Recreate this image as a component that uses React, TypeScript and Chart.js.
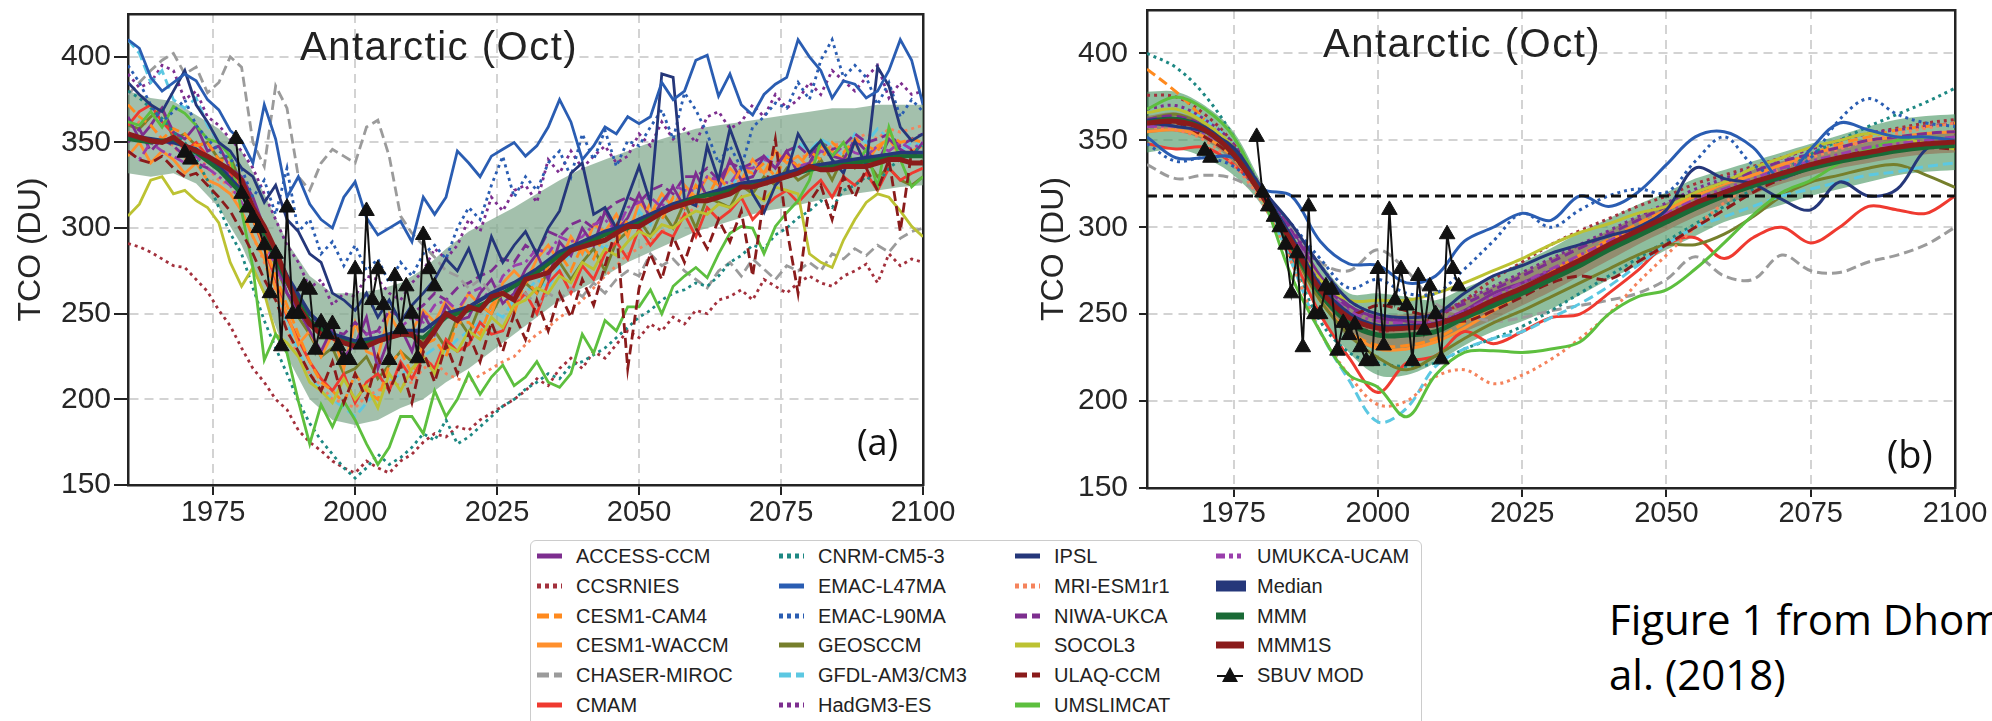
import React, { useEffect, useRef } from "react";
import { Chart, registerables } from "chart.js";

Chart.register(...registerables);

// ---------------- axes ----------------
const X_MIN = 1960;
const X_MAX = 2100;
const Y_MIN = 150;
const Y_MAX = 425;
const X_TICKS = [1975, 2000, 2025, 2050, 2075, 2100];
const Y_TICKS = [150, 200, 250, 300, 350, 400];

// ---------------- year grids ----------------
const YEARS_2 = [
  1960, 1962, 1964, 1966, 1968,
  1970, 1972, 1974, 1976, 1978,
  1980, 1982, 1984, 1986, 1988,
  1990, 1992, 1994, 1996, 1998,
  2000, 2002, 2004, 2006, 2008,
  2010, 2012, 2014, 2016, 2018,
  2020, 2022, 2024, 2026, 2028,
  2030, 2032, 2034, 2036, 2038,
  2040, 2042, 2044, 2046, 2048,
  2050, 2052, 2054, 2056, 2058,
  2060, 2062, 2064, 2066, 2068,
  2070, 2072, 2074, 2076, 2078,
  2080, 2082, 2084, 2086, 2088,
  2090, 2092, 2094, 2096, 2098,
  2100,
];
const YEARS_4 = [
  1960, 1964, 1968, 1972, 1976,
  1980, 1984, 1988, 1992, 1996,
  2000, 2004, 2008, 2012, 2016,
  2020, 2024, 2028, 2032, 2036,
  2040, 2044, 2048, 2052, 2056,
  2060, 2064, 2068, 2072, 2076,
  2080, 2084, 2088, 2092, 2096,
  2100,
];
const YEARS_5 = [
  1960, 1965, 1970, 1975, 1980,
  1985, 1990, 1995, 2000, 2005,
  2010, 2015, 2020, 2025, 2030,
  2035, 2040, 2045, 2050, 2055,
  2060, 2065, 2070, 2075, 2080,
  2085, 2090, 2095, 2100,
];

// ---------------- SBUV MOD observations (both panels) ----------------
const SBUV_YEARS = [
  1970, 1971, 1972, 1973, 1974, 1975, 1976, 1977, 1978, 1979,
  1980, 1981, 1982, 1983, 1984, 1985, 1986, 1987, 1988, 1989,
  1990, 1991, 1992, 1993, 1994, 1995, 1996, 1997, 1998, 1999,
  2000, 2001, 2002, 2003, 2004, 2005, 2006, 2007, 2008, 2009,
  2010, 2011, 2012, 2013, 2014,
];
const SBUV_TCO = [
  344, 340, null, null, null, null, null, null, null, 352,
  320, 312, 306, 300, 290, 262, 285, 231, 312, 250,
  250, 266, 264, 229, 245, 238, 244, 231, 223, 223,
  276, 232, 310, 258, 276, 255, 223, 272, 241, 266,
  250, 224, 296, 276, 266,
];

// ---------------- Panel (a): model values, two-year sampling (YEARS_2) ----------------
const A_ACCESS_CCM = [
  365, 352, 360, 370, 356,
  352, 360, 345, 348, 335,
  330, 318, 300, 282, 262,
  252, 240, 228, 242, 225,
  232, 248, 218, 236, 242,
  228, 250, 238, 255, 246,
  248, 262, 270, 256, 262,
  276, 285, 270, 292, 284,
  300, 290, 310, 298, 306,
  320, 305, 315, 324, 312,
  332, 318, 322, 340, 328,
  330, 342, 335, 345, 332,
  338, 350, 342, 340, 352,
  345, 338, 352, 346, 342,
  350,
];
const A_CESM1_CAM4 = [
  372, 365, 360, 352, 358,
  355, 348, 350, 340, 338,
  318, 305, 290, 272, 255,
  238, 222, 210, 205, 198,
  215, 205, 200, 220, 228,
  215, 232, 235, 225, 245,
  245, 238, 255, 262, 250,
  270, 262, 278, 285, 275,
  290, 282, 298, 292, 305,
  300, 315, 305, 318, 312,
  325, 318, 330, 322, 335,
  332, 338, 330, 342, 336,
  345, 340, 350, 344, 352,
  348, 345, 355, 350, 352,
  350,
];
const A_CESM1_WACCM = [
  342, 350, 338, 345, 340,
  332, 338, 328, 325, 320,
  310, 295, 282, 265, 250,
  232, 240, 225, 238, 218,
  245, 228, 225, 250, 238,
  240, 252, 245, 258, 250,
  262, 255, 250, 268, 275,
  268, 282, 290, 280, 295,
  285, 302, 298, 308, 295,
  315, 308, 320, 312, 325,
  318, 330, 325, 335, 328,
  340, 332, 345, 338, 342,
  335, 348, 345, 340, 350,
  338, 348, 352, 342, 345,
  348,
];
const A_CMAM = [
  360, 368, 372, 362, 355,
  345, 350, 342, 338, 332,
  322, 305, 288, 270, 248,
  235, 222, 212, 205, 215,
  198, 210, 215, 205, 222,
  212, 225, 218, 235, 228,
  232, 245, 238, 240, 255,
  262, 250, 268, 275, 262,
  278, 270, 285, 292, 282,
  300, 290, 298, 295, 308,
  295, 312, 305, 310, 318,
  305, 312, 318, 322, 315,
  322, 328, 318, 330, 325,
  332, 322, 335, 328, 332,
  335,
];
const A_GEOSCCM = [
  360, 358, 365, 370, 352,
  355, 348, 350, 340, 342,
  325, 310, 295, 278, 262,
  248, 238, 225, 230, 215,
  218, 225, 212, 220, 228,
  222, 235, 240, 230, 248,
  238, 255, 250, 262, 258,
  268, 262, 275, 280, 270,
  280, 288, 275, 292, 298,
  305, 295, 310, 300, 315,
  300, 318, 315, 312, 325,
  320, 330, 325, 335, 328,
  332, 340, 328, 342, 335,
  340, 330, 335, 328, 325,
  330,
];
const A_GFDL = [
  410, 402, 385, 392, 375,
  370, 376, 360, 350, 342,
  325, 308, 290, 270, 245,
  228, 215, 205, 200, 195,
  190, 198, 205, 210, 215,
  218, 225, 230, 228, 235,
  240, 245, 252, 248, 258,
  262, 270, 265, 278, 285,
  285, 292, 288, 300, 298,
  310, 302, 318, 312, 325,
  318, 330, 325, 322, 335,
  332, 340, 345, 338, 350,
  345, 352, 348, 342, 355,
  350, 358, 352, 345, 350,
  348,
];
const A_HADGM3_ES = [
  390, 382, 385, 395, 392,
  375, 380, 365, 360, 352,
  345, 335, 320, 305, 290,
  280, 265, 270, 255, 262,
  260, 272, 270, 262, 258,
  268, 275, 288, 282, 290,
  305, 298, 318, 310, 322,
  325, 315, 340, 332, 345,
  335, 342, 348, 338, 342,
  355, 348, 362, 352, 358,
  350, 365, 368, 358, 362,
  372, 365, 378, 370, 375,
  385, 378, 392, 386, 380,
  388, 395, 376, 385, 378,
  380,
];
const A_MRI_ESM1R1 = [
  355, 362, 360, 352, 348,
  340, 345, 335, 328, 325,
  310, 295, 280, 262, 240,
  225, 215, 208, 200, 198,
  195, 202, 205, 210, 208,
  210, 218, 222, 215, 212,
  210, 214, 218, 222, 225,
  232, 238, 242, 248, 252,
  258, 265, 272, 278, 285,
  288, 292, 298, 302, 308,
  312, 318, 320, 325, 328,
  335, 332, 338, 340, 342,
  342, 345, 348, 350, 352,
  355, 352, 358, 356, 358,
  360,
];
const A_NIWA_UKCA = [
  350, 358, 345, 352, 348,
  342, 338, 335, 340, 330,
  325, 312, 298, 285, 270,
  260, 250, 242, 240, 238,
  245, 238, 240, 252, 248,
  250, 255, 262, 258, 265,
  268, 272, 275, 282, 280,
  290, 285, 298, 295, 302,
  305, 300, 310, 315, 318,
  315, 322, 325, 320, 330,
  330, 335, 328, 338, 335,
  338, 342, 335, 345, 348,
  342, 350, 346, 348, 355,
  350, 352, 355, 348, 352,
  355,
];
const A_UMUKCA_UCAM = [
  345, 340, 350, 345, 342,
  338, 342, 335, 330, 325,
  315, 305, 292, 278, 262,
  252, 245, 240, 238, 235,
  232, 238, 240, 235, 242,
  248, 245, 255, 258, 252,
  262, 265, 258, 272, 278,
  280, 288, 285, 295, 292,
  295, 302, 305, 298, 312,
  315, 318, 312, 325, 322,
  322, 330, 328, 326, 335,
  335, 340, 338, 342, 336,
  338, 345, 342, 348, 344,
  342, 348, 345, 350, 346,
  350,
];
const A_EMAC_L47MA = [
  410, 405, 388, 380, 385,
  390, 386, 375, 369, 357,
  351, 338, 372, 352, 318,
  330, 314, 305, 300, 318,
  327, 306, 296, 300, 304,
  292, 318, 308, 318, 345,
  338, 330, 342, 346, 350,
  342, 348, 359, 375, 362,
  340, 348, 359, 355, 365,
  361, 365, 385, 375, 380,
  398, 401, 377, 390, 372,
  366, 378, 384, 388, 410,
  400, 392, 376, 386, 384,
  376, 380, 392, 410, 398,
  372,
];
const A_EMAC_L90MA = [
  395, 385, 372, 362, 368,
  375, 360, 352, 345, 340,
  335, 318, 328, 308, 335,
  298, 305, 285, 292, 278,
  290, 275, 282, 268, 280,
  272, 285, 290, 282, 300,
  312, 305, 325, 342, 318,
  330, 322, 338, 345, 330,
  355, 340, 357, 336, 351,
  348, 359, 369, 352, 379,
  369, 355, 338, 348, 335,
  359, 365, 373, 370, 385,
  375, 398, 410, 388, 395,
  388, 372, 385, 365, 375,
  368,
];
const A_IPSL = [
  385, 378, 372, 368, 380,
  392, 372, 362, 350, 345,
  335, 330, 315, 325, 305,
  298, 285, 280, 262, 258,
  252, 262, 248, 258, 245,
  255, 262, 270, 282, 275,
  288, 270, 295, 280, 290,
  298, 285, 300, 310, 332,
  338, 308, 312, 300, 318,
  336, 315, 390, 388, 316,
  313, 348, 328, 358, 340,
  320, 309, 325, 332, 355,
  344, 351, 340, 332, 351,
  336, 394, 383, 359, 351,
  355,
];
const A_CHASER_MIROC = [
  378, 385, 392, 398, 402,
  390, 394, 379, 385, 400,
  394, 350, 336, 383, 370,
  330, 322, 338, 346, 342,
  338, 359, 363, 342, 307,
  297, 290, 283, 275, 272,
  265, 270, 262, 268, 258,
  262, 255, 262, 258, 265,
  260, 268, 262, 270, 275,
  272, 285, 278, 282, 275,
  270, 265, 275, 280, 272,
  282, 276, 270, 278, 275,
  280, 275, 285, 282, 288,
  284, 290, 286, 294, 298,
  300,
];
const A_CCSRNIES = [
  291, 289, 286, 282, 278,
  277, 270, 263, 252, 243,
  230, 218, 210, 200, 194,
  182, 175, 170, 164, 160,
  157, 164, 160, 157, 164,
  168, 175, 180, 178, 184,
  182, 188, 192, 196, 200,
  205, 212, 208, 218, 224,
  218, 228, 224, 232, 240,
  236, 244, 240, 248, 244,
  252, 250, 258, 260, 264,
  258, 270, 266, 262, 268,
  272, 268, 266, 272, 275,
  279, 268, 285, 278, 282,
  280,
];
const A_CNRM_CM5_3 = [
  380, 376, 370, 364, 356,
  350, 340, 328, 312, 297,
  285, 265, 246, 230, 215,
  199, 186, 176, 168, 160,
  154, 160, 168, 162, 166,
  172, 180, 176, 188, 174,
  178, 184, 190, 196, 200,
  206, 210, 215, 212, 220,
  222, 226, 230, 236, 242,
  248, 252, 258, 262, 264,
  268, 266, 272, 280, 284,
  290, 288, 296, 300, 306,
  310, 316, 312, 322, 325,
  330, 326, 335, 340, 344,
  348,
];
const A_UMSLIMCAT = [
  362, 360, 368, 359, 371,
  367, 360, 352, 350, 342,
  310, 277, 223, 238, 227,
  199, 174, 197, 184, 199,
  188, 174, 162, 172, 190,
  190, 180, 205, 190, 200,
  215, 203, 213, 220, 208,
  213, 222, 210, 207, 215,
  238, 227, 246, 240, 254,
  254, 264, 250, 266, 272,
  277, 271, 285, 297, 301,
  300, 285, 301, 309, 316,
  328, 351, 342, 350, 336,
  346, 324, 359, 340, 324,
  330,
];
const A_SOCOL3 = [
  307, 314, 328, 330, 320,
  322, 316, 312, 303, 280,
  266, 277, 262, 238, 233,
  225, 210, 205, 198, 212,
  200, 208, 195, 215, 205,
  218, 225, 215, 232, 228,
  240, 235, 248, 242, 255,
  258, 265, 262, 272, 268,
  280, 276, 288, 284, 292,
  298, 295, 302, 300, 306,
  310, 308, 314, 312, 318,
  320, 316, 324, 322, 320,
  285, 280, 277, 293, 305,
  315, 320, 318, 310, 301,
  295,
];
const A_ULAQ_CCM = [
  345, 340, 338, 342, 335,
  330, 332, 325, 318, 310,
  298, 285, 270, 258, 240,
  228, 215, 205, 222, 198,
  215, 200, 225, 205, 220,
  198, 228, 210, 232, 215,
  238, 222, 245, 228, 250,
  235, 258, 240, 262, 248,
  270, 255, 278, 300, 218,
  265, 285, 270, 295, 280,
  300, 288, 305, 292, 310,
  272, 318, 352, 300, 262,
  315, 325, 305, 330, 318,
  335, 322, 340, 298, 345,
  338,
];
const A_MMM1S = [
  355, 353, 351, 350, 353,
  348, 345, 342, 338, 334,
  328, 312, 301, 287, 270,
  254, 244, 238, 236, 233,
  231, 231, 234, 236, 238,
  238, 231, 240, 250, 246,
  254, 252, 260, 262, 258,
  270, 272, 274, 281, 287,
  289, 291, 293, 297, 301,
  301, 305, 309, 312, 314,
  316, 316, 318, 320, 324,
  324, 326, 328, 330, 332,
  336, 334, 334, 336, 336,
  336, 338, 340, 340, 338,
  338,
];
// four-year sampling (YEARS_4)
const A_MEDIAN = [354, 352, 350, 346, 336, 322, 300, 272, 250, 238, 234, 236, 240, 240, 250, 254, 262, 268, 276, 286, 292, 298, 302, 308, 314, 318, 322, 326, 328, 332, 336, 338, 340, 342, 344, 344];
const A_MMM = [352, 350, 352, 344, 334, 320, 296, 268, 246, 236, 232, 234, 238, 236, 248, 252, 258, 266, 274, 284, 290, 296, 300, 306, 312, 318, 320, 324, 326, 330, 334, 336, 338, 340, 342, 342];
const A_BAND_LO = [332, 330, 332, 326, 312, 290, 260, 225, 200, 188, 185, 188, 195, 200, 210, 218, 228, 238, 248, 258, 265, 272, 280, 286, 292, 298, 302, 306, 310, 312, 315, 318, 320, 322, 324, 325];
const A_BAND_HI = [380, 376, 374, 366, 358, 345, 320, 292, 272, 262, 262, 264, 268, 276, 288, 298, 305, 312, 320, 328, 335, 340, 345, 350, 354, 358, 360, 362, 364, 366, 368, 370, 370, 372, 372, 372];

// ---------------- Panel (b): smoothed values (YEARS_5) ----------------
const B_ACCESS_CCM = [360, 362, 356, 345, 322, 300, 272, 255, 248, 246, 245, 252, 262, 268, 275, 282, 290, 298, 305, 312, 318, 324, 328, 334, 338, 342, 345, 348, 350];
const B_CCSRNIES = [376, 375, 365, 348, 320, 292, 262, 245, 240, 243, 248, 258, 270, 280, 290, 298, 305, 312, 318, 325, 330, 335, 340, 345, 350, 354, 357, 360, 362];
const B_CESM1_CAM4 = [391, 378, 362, 345, 318, 288, 258, 240, 232, 232, 236, 245, 255, 264, 274, 284, 293, 302, 310, 318, 325, 330, 336, 342, 348, 352, 356, 358, 360];
const B_CESM1_WACCM = [355, 356, 352, 340, 316, 288, 258, 240, 230, 230, 234, 242, 252, 262, 272, 282, 292, 300, 310, 318, 325, 330, 336, 342, 346, 350, 352, 354, 355];
const B_CHASER_MIROC = [336, 328, 330, 328, 318, 300, 280, 275, 287, 275, 256, 250, 246, 248, 252, 255, 258, 262, 270, 283, 272, 270, 284, 275, 274, 280, 284, 290, 300];
const B_CMAM = [348, 345, 346, 336, 318, 285, 250, 225, 205, 222, 226, 240, 233, 240, 248, 250, 262, 275, 290, 294, 282, 294, 300, 291, 300, 312, 310, 308, 318];
const B_CNRM_CM5_3 = [400, 392, 376, 352, 320, 282, 246, 228, 222, 220, 222, 230, 236, 243, 252, 262, 272, 282, 292, 302, 312, 322, 332, 342, 350, 358, 365, 372, 380];
const B_EMAC_L47MA = [352, 340, 340, 340, 322, 318, 292, 279, 278, 268, 272, 292, 300, 308, 304, 318, 312, 320, 336, 352, 355, 346, 328, 345, 360, 356, 352, 352, 350];
const B_EMAC_L90MA = [348, 338, 340, 335, 320, 302, 282, 265, 270, 262, 262, 276, 292, 308, 300, 310, 318, 322, 320, 338, 352, 336, 330, 340, 362, 374, 365, 360, 358];
const B_GEOSCCM = [362, 365, 358, 345, 318, 288, 258, 238, 225, 218, 226, 236, 245, 252, 260, 268, 276, 284, 290, 290, 296, 306, 318, 326, 330, 334, 336, 330, 323];
const B_GFDL = [366, 368, 362, 346, 318, 280, 240, 212, 188, 196, 220, 230, 236, 240, 248, 256, 266, 278, 290, 300, 306, 312, 318, 322, 326, 330, 332, 335, 337];
const B_HADGM3_ES = [368, 370, 362, 348, 322, 298, 278, 258, 250, 248, 250, 258, 266, 274, 282, 290, 298, 306, 314, 322, 328, 334, 340, 345, 350, 354, 356, 358, 360];
const B_IPSL = [360, 358, 355, 346, 322, 302, 278, 258, 250, 248, 250, 262, 272, 278, 285, 290, 295, 300, 310, 334, 328, 325, 316, 310, 326, 318, 322, 345, 350];
const B_MRI_ESM1R1 = [358, 356, 350, 336, 314, 280, 240, 215, 198, 200, 214, 218, 210, 215, 224, 236, 250, 268, 284, 300, 314, 325, 334, 340, 345, 350, 354, 357, 360];
const B_NIWA_UKCA = [362, 364, 358, 346, 322, 298, 270, 254, 248, 248, 250, 256, 264, 272, 280, 288, 296, 304, 312, 320, 326, 332, 338, 342, 346, 350, 352, 354, 355];
const B_SOCOL3 = [366, 368, 360, 346, 320, 295, 270, 258, 258, 258, 262, 268, 275, 282, 290, 297, 302, 308, 312, 320, 326, 334, 340, 346, 350, 354, 352, 348, 345];
const B_ULAQ_CCM = [358, 360, 352, 340, 318, 290, 262, 250, 255, 252, 248, 246, 252, 260, 268, 272, 270, 280, 290, 300, 310, 320, 328, 334, 340, 344, 346, 346, 345];
const B_UMSLIMCAT = [368, 375, 368, 352, 318, 272, 240, 215, 208, 191, 215, 228, 229, 228, 230, 234, 250, 260, 264, 276, 291, 307, 320, 327, 337, 345, 350, 352, 350];
const B_UMUKCA_UCAM = [358, 358, 354, 342, 320, 296, 268, 252, 246, 245, 246, 252, 260, 268, 276, 284, 292, 300, 308, 316, 322, 328, 334, 338, 342, 346, 348, 350, 352];
const B_MEDIAN = [361, 362, 357, 343, 320, 294, 266, 250, 243, 243, 244, 250, 257, 264, 272, 280, 288, 297, 305, 313, 320, 325, 330, 335, 339, 342, 345, 347, 348];
const B_MMM = [360, 362, 356, 342, 318, 290, 262, 245, 238, 238, 240, 248, 255, 262, 270, 278, 287, 295, 303, 311, 318, 324, 329, 334, 338, 341, 344, 346, 347];
const B_MMM1S = [360, 361, 356, 342, 318, 292, 264, 248, 242, 242, 244, 250, 258, 265, 273, 281, 290, 298, 306, 314, 320, 326, 331, 336, 340, 343, 346, 348, 349];
const B_BAND_LO = [343, 345, 340, 330, 312, 280, 250, 228, 215, 215, 222, 232, 240, 246, 253, 261, 270, 278, 287, 295, 303, 308, 313, 318, 322, 326, 330, 332, 333];
const B_BAND_HI = [378, 378, 370, 355, 325, 300, 280, 262, 262, 260, 258, 265, 272, 280, 288, 297, 305, 313, 320, 328, 333, 338, 343, 348, 353, 358, 362, 364, 365];
const B_BROWN_LO = [354, 355, 350, 337, 315, 288, 258, 236, 230, 230, 234, 240, 247, 255, 263, 272, 281, 290, 298, 306, 313, 319, 325, 330, 334, 337, 340, 342, 343];
const B_BROWN_HI = [364, 366, 360, 346, 321, 296, 270, 254, 250, 250, 252, 258, 266, 274, 282, 290, 298, 306, 314, 321, 327, 333, 338, 342, 346, 349, 352, 354, 355];
const B_REF_YEARS = [1960, 2100];
const B_REF_LEVEL = [318, 318];

// ---------------- styles ----------------
const FONT = "'Liberation Sans', Arial, Helvetica, sans-serif";
const CAPTION_FONT = "'Open Sans', 'Noto Sans', sans-serif";
const TEXT = "#262626";
const AXIS = "#232323";
const GRID = "#d3d3d3";

const SOLID: number[] = [];
const DOT = [3, 4];
const DASH = [10, 5];
const DASHDOT = [10, 4, 3, 4];

type St = { color: string; dash: number[]; leg: string; lw?: number; len?: number };
const STYLE: Record<string, St> = {
  "ACCESS-CCM": { color: "#7d2e8f", dash: SOLID, leg: "" },
  CCSRNIES: { color: "#a3303c", dash: DOT, leg: "4 4" },
  "CESM1-CAM4": { color: "#ff8a1e", dash: DASH, leg: "12 5" },
  "CESM1-WACCM": { color: "#ff902e", dash: SOLID, leg: "" },
  "CHASER-MIROC": { color: "#9b9b9b", dash: DASH, leg: "12 5" },
  CMAM: { color: "#ef3a30", dash: SOLID, leg: "" },
  "CNRM-CM5-3": { color: "#1d8883", dash: DOT, leg: "4 4" },
  "EMAC-L47MA": { color: "#2a5db2", dash: SOLID, leg: "" },
  "EMAC-L90MA": { color: "#2a5db2", dash: DOT, leg: "4 4" },
  GEOSCCM: { color: "#767f2c", dash: SOLID, leg: "" },
  "GFDL-AM3/CM3": { color: "#5cc8e2", dash: DASH, leg: "12 5" },
  "HadGM3-ES": { color: "#7d2e8f", dash: DOT, leg: "4 4" },
  IPSL: { color: "#25377a", dash: SOLID, leg: "" },
  "MRI-ESM1r1": { color: "#f5835c", dash: DOT, leg: "4 4" },
  "NIWA-UKCA": { color: "#7d2e8f", dash: DASH, leg: "12 5" },
  SOCOL3: { color: "#bcc232", dash: SOLID, leg: "" },
  "ULAQ-CCM": { color: "#8a1b1b", dash: DASH, leg: "12 5" },
  UMSLIMCAT: { color: "#5dbf3e", dash: SOLID, leg: "" },
  "UMUKCA-UCAM": { color: "#9a3fac", dash: DASHDOT, leg: "9 4 4 4" },
  Median: { color: "#25377a", dash: SOLID, leg: "", lw: 11, len: 30 },
  MMM: { color: "#1a6a36", dash: SOLID, leg: "", lw: 7, len: 28 },
  MMM1S: { color: "#8a1b1b", dash: SOLID, leg: "", lw: 7, len: 28 },
  "SBUV MOD": { color: "#111111", dash: SOLID, leg: "" },
};

const LEGEND_COLUMNS = [
  ["ACCESS-CCM", "CCSRNIES", "CESM1-CAM4", "CESM1-WACCM", "CHASER-MIROC", "CMAM"],
  ["CNRM-CM5-3", "EMAC-L47MA", "EMAC-L90MA", "GEOSCCM", "GFDL-AM3/CM3", "HadGM3-ES"],
  ["IPSL", "MRI-ESM1r1", "NIWA-UKCA", "SOCOL3", "ULAQ-CCM", "UMSLIMCAT"],
  ["UMUKCA-UCAM", "Median", "MMM", "MMM1S", "SBUV MOD"],
];

// ---------------- dataset helpers ----------------
function series(name: string, xs: number[], ys: (number | null)[], width: number, tension: number) {
  const st = STYLE[name];
  return {
    label: name,
    data: xs.map((x, i) => ({ x, y: ys[i] })),
    borderColor: st.color,
    backgroundColor: st.color,
    borderWidth: width,
    borderDash: st.dash,
    pointRadius: 0,
    fill: false,
    tension,
    spanGaps: false,
  };
}

function band(xs: number[], lo: number[], hi: number[], color: string, tension: number) {
  return [
    {
      label: "band-lo",
      data: xs.map((x, i) => ({ x, y: lo[i] })),
      borderColor: "rgba(0,0,0,0)",
      borderWidth: 1,
      pointRadius: 0,
      fill: false,
      tension,
    },
    {
      label: "band-hi",
      data: xs.map((x, i) => ({ x, y: hi[i] })),
      borderColor: "rgba(0,0,0,0)",
      backgroundColor: color,
      borderWidth: 1,
      pointRadius: 0,
      fill: "-1",
      tension,
    },
  ];
}

function sbuv(width: number) {
  return {
    label: "SBUV MOD",
    data: SBUV_YEARS.map((x, i) => ({ x, y: SBUV_TCO[i] })),
    borderColor: "#111111",
    backgroundColor: "#111111",
    borderWidth: width,
    pointStyle: "triangle",
    pointRadius: 9,
    pointBackgroundColor: "#111111",
    pointBorderColor: "#111111",
    pointBorderWidth: 1,
    spanGaps: false,
    fill: false,
    tension: 0,
  };
}

// later entries are painted on top (order decreases along the list)
function stack(list: any[]) {
  const n = list.length;
  return list.map((d, i) => ({ ...d, order: n - i }));
}

const W_A = 2.8;
const datasetsA = stack([
  ...band(YEARS_4, A_BAND_LO, A_BAND_HI, "rgba(128,168,140,0.72)", 0),
  series("HadGM3-ES", YEARS_2, A_HADGM3_ES, W_A, 0),
  series("GFDL-AM3/CM3", YEARS_2, A_GFDL, W_A, 0),
  series("MRI-ESM1r1", YEARS_2, A_MRI_ESM1R1, W_A, 0),
  series("GEOSCCM", YEARS_2, A_GEOSCCM, W_A, 0),
  series("CMAM", YEARS_2, A_CMAM, W_A, 0),
  series("CESM1-WACCM", YEARS_2, A_CESM1_WACCM, W_A, 0),
  series("NIWA-UKCA", YEARS_2, A_NIWA_UKCA, W_A, 0),
  series("UMUKCA-UCAM", YEARS_2, A_UMUKCA_UCAM, W_A, 0),
  series("ACCESS-CCM", YEARS_2, A_ACCESS_CCM, W_A, 0),
  series("CESM1-CAM4", YEARS_2, A_CESM1_CAM4, W_A, 0),
  series("CHASER-MIROC", YEARS_2, A_CHASER_MIROC, W_A, 0),
  series("CCSRNIES", YEARS_2, A_CCSRNIES, W_A, 0),
  series("CNRM-CM5-3", YEARS_2, A_CNRM_CM5_3, W_A, 0),
  series("SOCOL3", YEARS_2, A_SOCOL3, W_A, 0),
  series("UMSLIMCAT", YEARS_2, A_UMSLIMCAT, W_A, 0),
  series("EMAC-L90MA", YEARS_2, A_EMAC_L90MA, W_A, 0),
  series("IPSL", YEARS_2, A_IPSL, W_A, 0),
  series("EMAC-L47MA", YEARS_2, A_EMAC_L47MA, W_A, 0),
  series("ULAQ-CCM", YEARS_2, A_ULAQ_CCM, W_A, 0),
  series("Median", YEARS_4, A_MEDIAN, 4, 0),
  series("MMM", YEARS_4, A_MMM, 4, 0),
  series("MMM1S", YEARS_2, A_MMM1S, 5, 0),
  sbuv(2),
]);

const T = 0.35;
const datasetsB = stack([
  ...band(YEARS_5, B_BAND_LO, B_BAND_HI, "rgba(72,150,98,0.62)", T),
  ...band(YEARS_5, B_BROWN_LO, B_BROWN_HI, "rgba(150,100,72,0.55)", T),
  series("ACCESS-CCM", YEARS_5, B_ACCESS_CCM, 3, T),
  series("CCSRNIES", YEARS_5, B_CCSRNIES, 3, T),
  series("CESM1-CAM4", YEARS_5, B_CESM1_CAM4, 3, T),
  series("CESM1-WACCM", YEARS_5, B_CESM1_WACCM, 3, T),
  series("CHASER-MIROC", YEARS_5, B_CHASER_MIROC, 3, T),
  series("CMAM", YEARS_5, B_CMAM, 3, T),
  series("CNRM-CM5-3", YEARS_5, B_CNRM_CM5_3, 3, T),
  series("GEOSCCM", YEARS_5, B_GEOSCCM, 3, T),
  series("GFDL-AM3/CM3", YEARS_5, B_GFDL, 3, T),
  series("HadGM3-ES", YEARS_5, B_HADGM3_ES, 3, T),
  series("MRI-ESM1r1", YEARS_5, B_MRI_ESM1R1, 3, T),
  series("NIWA-UKCA", YEARS_5, B_NIWA_UKCA, 3, T),
  series("SOCOL3", YEARS_5, B_SOCOL3, 3, T),
  series("ULAQ-CCM", YEARS_5, B_ULAQ_CCM, 3, T),
  series("UMSLIMCAT", YEARS_5, B_UMSLIMCAT, 3, T),
  series("UMUKCA-UCAM", YEARS_5, B_UMUKCA_UCAM, 3, T),
  series("EMAC-L90MA", YEARS_5, B_EMAC_L90MA, 3, T),
  series("IPSL", YEARS_5, B_IPSL, 3, T),
  series("EMAC-L47MA", YEARS_5, B_EMAC_L47MA, 3, T),
  series("Median", YEARS_5, B_MEDIAN, 5, T),
  series("MMM", YEARS_5, B_MMM, 5, T),
  series("MMM1S", YEARS_5, B_MMM1S, 5, T),
  {
    label: "1980 level",
    data: B_REF_YEARS.map((x, i) => ({ x, y: B_REF_LEVEL[i] })),
    borderColor: "#111111",
    borderWidth: 3,
    borderDash: [10, 6],
    pointRadius: 0,
    fill: false,
  },
  sbuv(2),
]);

// ---------------- chart options ----------------
type Layout = {
  left: number; right: number; top: number; bottom: number;
  titlePad: number; yTick: number; yPad: number; xTick: number; xPad: number;
};

function makeOptions(L: Layout): any {
  const frame = { color: AXIS, width: 2.5 };
  return {
    responsive: false,
    animation: false,
    devicePixelRatio: 1,
    events: [],
    layout: { padding: 0 },
    plugins: { legend: { display: false }, tooltip: { enabled: false }, title: { display: false } },
    scales: {
      x: {
        type: "linear",
        position: "bottom",
        min: X_MIN,
        max: X_MAX,
        afterBuildTicks: (s: any) => { s.ticks = X_TICKS.map((v) => ({ value: v })); },
        afterFit: (s: any) => { s.height = L.bottom; s.paddingLeft = 0; s.paddingRight = 0; },
        grid: { color: GRID, lineWidth: 2, tickLength: L.xTick, tickColor: AXIS, tickWidth: 2 },
        border: { ...frame, dash: [9, 6] },
        ticks: {
          font: { family: FONT, size: 29 },
          color: TEXT,
          padding: L.xPad,
          maxRotation: 0,
          autoSkip: false,
          callback: (v: any) => String(v),
        },
      },
      y: {
        type: "linear",
        position: "left",
        min: Y_MIN,
        max: Y_MAX,
        afterBuildTicks: (s: any) => { s.ticks = Y_TICKS.map((v) => ({ value: v })); },
        afterFit: (s: any) => { s.width = L.left; s.paddingTop = 0; s.paddingBottom = 0; },
        grid: { color: GRID, lineWidth: 2, tickLength: L.yTick, tickColor: AXIS, tickWidth: 2 },
        border: { ...frame, dash: [9, 6] },
        ticks: {
          font: { family: FONT, size: 30 },
          color: TEXT,
          padding: L.yPad,
          autoSkip: false,
          callback: (v: any) => String(v),
        },
        title: {
          display: true,
          text: "TCO (DU)",
          font: { family: FONT, size: 32 },
          color: TEXT,
          padding: { top: L.titlePad, bottom: 0 },
        },
      },
      xTop: {
        type: "linear",
        position: "top",
        min: X_MIN,
        max: X_MAX,
        grid: { display: false, drawTicks: false },
        ticks: { display: false },
        border: { display: true, ...frame },
        afterFit: (s: any) => { s.height = L.top; s.paddingLeft = 0; s.paddingRight = 0; },
      },
      yRight: {
        type: "linear",
        position: "right",
        min: Y_MIN,
        max: Y_MAX,
        grid: { display: false, drawTicks: false },
        ticks: { display: false },
        border: { display: true, ...frame },
        afterFit: (s: any) => { s.width = L.right; s.paddingTop = 0; s.paddingBottom = 0; },
      },
    },
  };
}

const LAYOUT_A: Layout = { left: 128, right: 37, top: 14, bottom: 55, titlePad: 12, yTick: 14, yPad: 3, xTick: 10, xPad: 1 };
const LAYOUT_B: Layout = { left: 147, right: 37, top: 10, bottom: 52, titlePad: 35, yTick: 8, yPad: 11, xTick: 9, xPad: 0 };

function ChartPanel(props: { x: number; w: number; h: number; datasets: any[]; layout: Layout }) {
  const ref = useRef<HTMLCanvasElement | null>(null);
  useEffect(() => {
    if (!ref.current) return;
    const chart = new Chart(ref.current, {
      type: "line",
      data: { datasets: props.datasets },
      options: makeOptions(props.layout),
    } as any);
    return () => chart.destroy();
  }, []);
  return (
    <canvas
      ref={ref}
      width={props.w}
      height={props.h}
      style={{ position: "absolute", left: props.x, top: 0, width: props.w, height: props.h }}
    />
  );
}

// ---------------- text helpers ----------------
function Label(props: {
  x: number; baseline: number; size: number; family: string; k: number;
  text: string; color?: string; spacing?: number;
}) {
  return (
    <div
      style={{
        position: "absolute",
        left: props.x,
        top: props.baseline - props.k * props.size,
        fontFamily: props.family,
        fontSize: props.size,
        lineHeight: 1,
        whiteSpace: "nowrap",
        color: props.color || "#222",
        letterSpacing: props.spacing || 0,
      }}
    >
      {props.text}
    </div>
  );
}

function Swatch({ name }: { name: string }) {
  const st = STYLE[name];
  const lw = st.lw || 5;
  const len = st.len || 25;
  if (name === "SBUV MOD") {
    return (
      <svg width={32} height={20} style={{ display: "block" }}>
        <line x1={2} y1={11} x2={28} y2={11} stroke={st.color} strokeWidth={2} />
        <polygon points="15,2 23,17 7,17" fill={st.color} />
      </svg>
    );
  }
  return (
    <svg width={32} height={20} style={{ display: "block" }}>
      <line
        x1={1}
        y1={10}
        x2={1 + len}
        y2={10}
        stroke={st.color}
        strokeWidth={lw}
        strokeDasharray={st.leg || undefined}
      />
    </svg>
  );
}

const LEG_SWATCH_X = [536, 778, 1014, 1215];
const LEG_TEXT_X = [576, 818, 1054, 1257];
const LEG_ROW_Y0 = 556;
const LEG_ROW_DY = 29.8;

function Legend() {
  const items: any[] = [];
  LEGEND_COLUMNS.forEach((col, ci) => {
    col.forEach((name, ri) => {
      const cy = LEG_ROW_Y0 + ri * LEG_ROW_DY;
      items.push(
        <div key={name} style={{ position: "absolute", left: LEG_SWATCH_X[ci], top: cy - 10, height: 20 }}>
          <Swatch name={name} />
        </div>
      );
      items.push(
        <div
          key={name + "-t"}
          style={{
            position: "absolute",
            left: LEG_TEXT_X[ci],
            top: cy - 12,
            height: 24,
            lineHeight: "24px",
            fontFamily: FONT,
            fontSize: 20,
            color: "#222",
            whiteSpace: "nowrap",
          }}
        >
          {name}
        </div>
      );
    });
  });
  return (
    <>
      <div
        style={{
          position: "absolute",
          left: 530,
          top: 540,
          width: 892,
          height: 220,
          border: "1.5px solid #cccccc",
          borderRadius: 6,
          background: "#fff",
          boxSizing: "border-box",
        }}
      />
      {items}
    </>
  );
}

export default function App() {
  return (
    <div
      style={{
        position: "absolute",
        left: 0,
        top: 0,
        width: 1992,
        height: 721,
        overflow: "hidden",
        background: "#ffffff",
      }}
    >
      <ChartPanel x={0} w={960} h={540} datasets={datasetsA} layout={LAYOUT_A} />
      <ChartPanel x={1000} w={992} h={540} datasets={datasetsB} layout={LAYOUT_B} />
      <Label x={300} baseline={60} size={40} family={FONT} k={0.8465} text="Antarctic (Oct)" spacing={1.5} />
      <Label x={1323} baseline={57} size={40} family={FONT} k={0.8465} text="Antarctic (Oct)" spacing={1.5} />
      <Label x={857} baseline={456} size={36} family={CAPTION_FONT} k={0.888} text="(a)" color="#111" />
      <Label x={1887} baseline={468} size={38} family={CAPTION_FONT} k={0.888} text="(b)" color="#111" />
      <Legend />
      <Label x={1609} baseline={635} size={42} family={CAPTION_FONT} k={0.888} text="Figure 1 from Dhom" color="#000" />
      <Label x={1609} baseline={690} size={42} family={CAPTION_FONT} k={0.888} text="al. (2018)" color="#000" />
    </div>
  );
}
